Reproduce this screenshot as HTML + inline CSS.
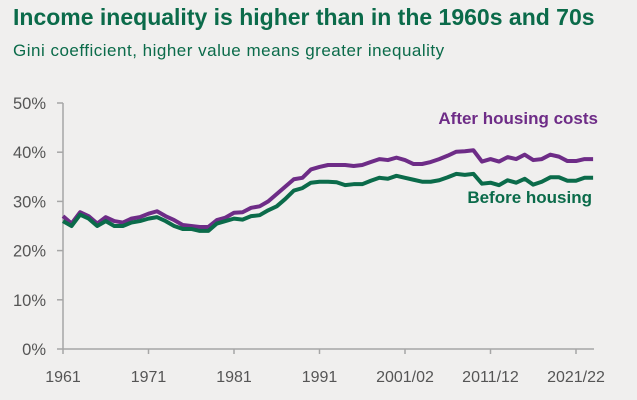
<!DOCTYPE html>
<html><head><meta charset="utf-8"><style>
html,body{margin:0;padding:0;background:#f0efee;}
body{width:637px;height:400px;overflow:hidden;font-family:"Liberation Sans",sans-serif;position:relative;}
.t{position:absolute;left:13px;top:4px;font-size:23px;letter-spacing:0px;font-weight:bold;color:#0b6b4a;white-space:nowrap;}
.s{position:absolute;left:13px;top:41px;font-size:17px;letter-spacing:0.5px;color:#0b6b4a;white-space:nowrap;}
svg{position:absolute;left:0;top:0;}
</style></head><body>
<div class="t">Income inequality is higher than in the 1960s and 70s</div>
<div class="s">Gini coefficient, higher value means greater inequality</div>
<svg id="c" width="637" height="400"></svg>
<script>
const startYear = 1961;
const xTickLabels = ["1961","1971","1981","1991","2001/02","2011/12","2021/22"];
const yTicks = [0,10,20,30,40,50];
const afterHousing = [27,25.5,27.8,27,25.5,26.8,26,25.7,26.5,26.8,27.5,28,27,26.2,25.2,25,24.8,24.8,26.2,26.7,27.7,27.8,28.7,29,30,31.5,33,34.5,34.8,36.5,37,37.4,37.4,37.4,37.2,37.4,38,38.6,38.4,38.9,38.4,37.6,37.6,38,38.6,39.3,40.1,40.2,40.4,38.1,38.6,38.1,39,38.6,39.5,38.4,38.6,39.5,39.1,38.2,38.2,38.6,38.6];
const beforeHousing = [26,25,27.3,26.5,25,26,25,25,25.7,26,26.5,26.8,26,25,24.4,24.4,24,24,25.5,26,26.5,26.3,27,27.2,28.2,29,30.5,32.2,32.7,33.8,34,34,33.9,33.3,33.5,33.5,34.2,34.8,34.6,35.2,34.8,34.4,34,34,34.3,34.9,35.6,35.4,35.6,33.6,33.8,33.3,34.3,33.8,34.6,33.4,34,34.9,34.9,34.2,34.2,34.8,34.8];
const svg=document.getElementById('c');
const NS='http://www.w3.org/2000/svg';
const x0=63, pxYear=8.55, y0=349, pxPct=4.92;
const X=i=>x0+i*pxYear, Y=v=>y0-v*pxPct;
function mk(t,a){const e=document.createElementNS(NS,t);for(const k in a)e.setAttribute(k,a[k]);svg.appendChild(e);return e;}
let ax=mk('line',{x1:x0,y1:Y(50),x2:x0,y2:y0,stroke:'#a6a6a6','stroke-width':1.5});


let bx=mk('line',{x1:x0,y1:y0,x2:594,y2:y0,stroke:'#a6a6a6','stroke-width':1.5});


yTicks.forEach(v=>{
  const tk=mk('line',{x1:57,x2:x0,y1:Y(v),y2:Y(v),stroke:'#a6a6a6','stroke-width':1.5});
  
  
  const t=mk('text',{x:46,y:Y(v)+6,'text-anchor':'end','font-size':16.5,fill:'#555'});
  t.textContent=v+'%';
  
  
});
xTickLabels.forEach((l,i)=>{
  const xx=X(i*10);
  const tk=mk('line',{x1:xx,x2:xx,y1:y0,y2:y0+5,stroke:'#a6a6a6','stroke-width':1.5});
  
  
  const t=mk('text',{x:xx,y:y0+33,'text-anchor':'middle','font-size':16,fill:'#555'});
  t.textContent=l;
  
  
});
function line(d,c,n){
  const p=mk('polyline',{points:d.map((v,i)=>X(i)+','+Y(v)).join(' '),fill:'none',stroke:c,'stroke-width':4,'stroke-linejoin':'round'});
  
  
}
line(afterHousing,'#6e2c87','after-housing-line');
line(beforeHousing,'#0b6b4a','before-housing-line');
let l1=mk('text',{x:598,y:124,'text-anchor':'end','font-size':17,'font-weight':'bold',fill:'#6e2c87'});
l1.textContent='After housing costs';


let l2=mk('text',{x:592,y:203,'text-anchor':'end','font-size':17,'font-weight':'bold',fill:'#0b6b4a'});
l2.textContent='Before housing';


</script>
</body></html>
